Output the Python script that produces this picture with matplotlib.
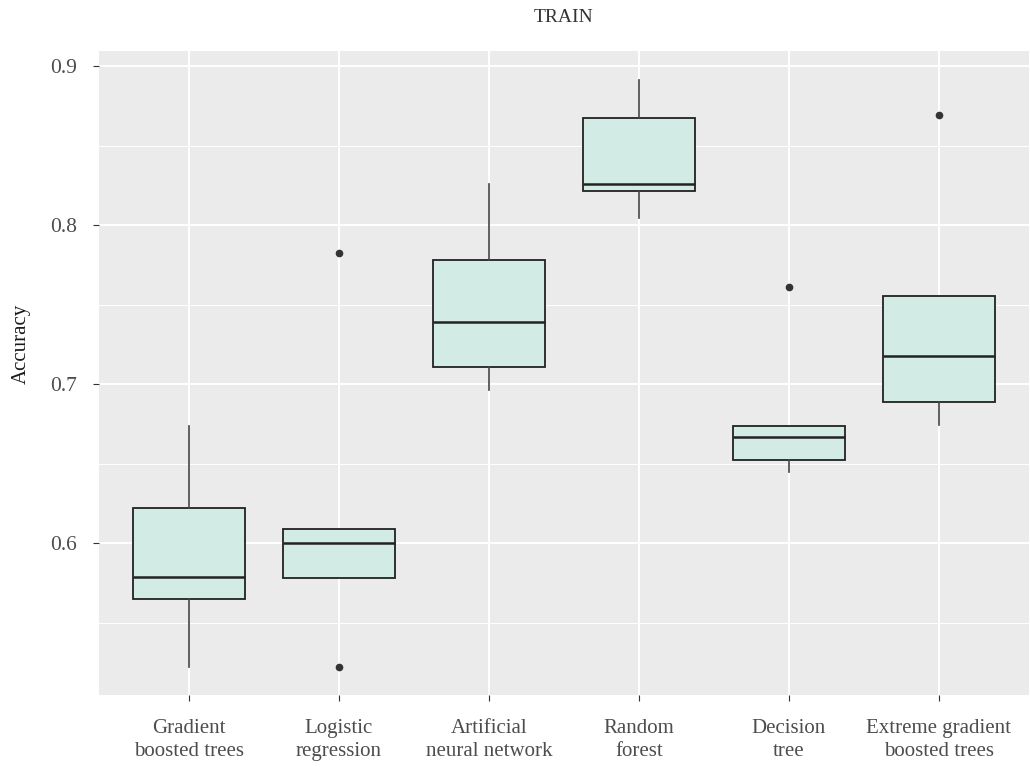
import numpy as np
import matplotlib
matplotlib.use("Agg")
import matplotlib.pyplot as plt
from matplotlib.ticker import MultipleLocator

# model names (x axis) and the five-number summaries of training accuracy
models = ["Gradient\nboosted trees", "Logistic\nregression", "Artificial\nneural network",
          "Random\nforest", "Decision\ntree", "Extreme gradient\nboosted trees"]
whislo = [0.5224, 0.5780, 0.6964, 0.8047, 0.6450, 0.6744]
q1 = [0.5650, 0.5780, 0.7106, 0.8216, 0.6524, 0.6886]
med = [0.5786, 0.6002, 0.7393, 0.8258, 0.6670, 0.7175]
q3 = [0.6224, 0.6090, 0.7781, 0.8670, 0.6739, 0.7556]
whishi = [0.6739, 0.6090, 0.8256, 0.8912, 0.6739, 0.7556]
outliers = [[], [0.5220, 0.7825], [], [], [0.7609], [0.8694]]

plt.rcParams['font.family'] = ['Liberation Serif', 'DejaVu Serif']

fig = plt.figure(figsize=(10.30, 7.67), dpi=100)
ax = fig.add_axes([0.0961, 0.0939, 0.9029, 0.8396])
ax.set_facecolor('#ebebeb')

stats = []
for i in range(len(models)):
    stats.append(dict(med=med[i], q1=q1[i], q3=q3[i], whislo=whislo[i],
                      whishi=whishi[i], fliers=outliers[i]))

pos = np.arange(1, len(models) + 1)
ax.bxp(stats, positions=pos, widths=0.75, patch_artist=True, showcaps=False,
       boxprops=dict(facecolor='#d2ebe4', edgecolor='#222222', linewidth=1.3),
       medianprops=dict(color='#222222', linewidth=1.8),
       whiskerprops=dict(color='#444444', linewidth=1.2),
       flierprops=dict(marker='o', markerfacecolor='#333333', markeredgecolor='#333333',
                       markersize=4.5),
       zorder=3)

ax.set_xlim(0.4, 6.6)
ax.set_ylim(0.5047, 0.9094)
ax.yaxis.set_major_locator(MultipleLocator(0.1))
ax.yaxis.set_minor_locator(MultipleLocator(0.05))
ax.set_xticks(pos)
ax.set_xticklabels(models, fontsize=15, color='#4d4d4d', linespacing=1.3)
ax.set_yticklabels([f"{t:.1f}" for t in ax.get_yticks()], fontsize=15.5, color='#4d4d4d')

ax.grid(which='major', color='white', linewidth=1.4, zorder=0)
ax.grid(which='minor', axis='y', color='white', linewidth=0.7, zorder=0)
ax.set_axisbelow(True)
ax.tick_params(which='major', length=4, color='#333333')
ax.tick_params(which='minor', length=0)
ax.tick_params(axis='y', pad=12)
ax.tick_params(axis='x', pad=13)
for s in ax.spines.values():
    s.set_visible(False)

ax.set_ylabel("Accuracy", fontsize=15, color='#1a1a1a')
ax.yaxis.set_label_coords(-0.073, 0.545)
ax.set_title("TRAIN", fontsize=14, color='#333333', pad=21)

fig.savefig("out.png", dpi=100)
